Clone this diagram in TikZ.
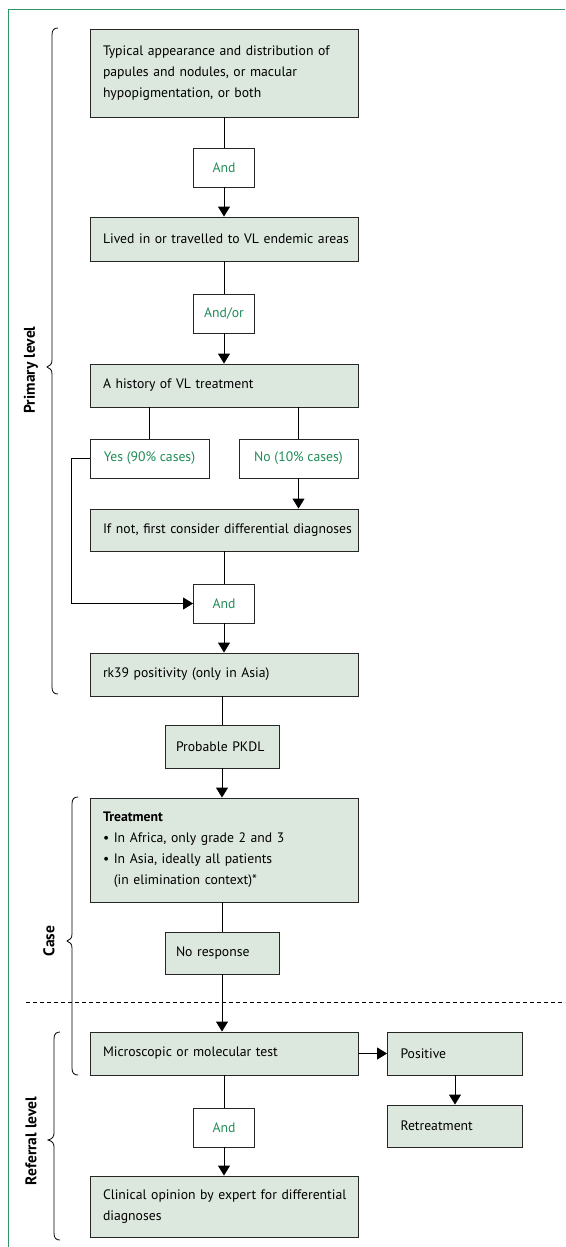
\documentclass[tikz,border=0pt]{standalone}
\usepackage{fontspec}
\setmainfont{PT Sans}
\usetikzlibrary{arrows.meta}
\definecolor{boxfill}{RGB}{220,231,222}
\definecolor{lgreen}{RGB}{32,140,88}
\definecolor{framegreen}{RGB}{45,150,100}
\begin{document}
\begin{tikzpicture}[x=1pt,y=-1pt,
  every node/.style={font=\fontsize{13.7}{21}\selectfont},
  box/.style={draw=black!85, line width=0.9pt, fill=boxfill, rectangle, inner ysep=0pt, inner xsep=13pt, align=left},
  widebox/.style={box, text width=242pt, minimum width=268pt},
  smallbox/.style={box, inner xsep=11pt, text width=92pt, minimum width=114pt},
  sidebox/.style={box, text width=109pt, minimum width=135pt},
  opbox/.style={draw=black!85, line width=0.9pt, fill=white, rectangle, inner sep=0pt, align=center, text=lgreen, minimum height=39pt},
  conn/.style={draw=black, line width=0.9pt},
  arr/.style={conn, -{Triangle[width=12pt,length=10pt]}},
  brc/.style={draw=black, line width=0.8pt},
  lvl/.style={font=\bfseries\fontsize{15.5}{17}\selectfont, rotate=90}
]
\useasboundingbox (0,0) rectangle (565,1247);
% frame
\draw[framegreen, line width=1pt] (8,1247) -- (8,10) -- (565,10);

% nodes
\node[widebox, minimum height=88pt] (b1) at (224,73) {\mbox{Typical appearance and distribution of}\\papules and nodules, or macular\\hypopigmentation, or both};
\node[opbox, minimum width=61pt] (and1) at (224,167.5) {And};
\node[widebox, minimum height=44pt] (b2) at (224,239) {\mbox{Lived in or travelled to VL endemic areas}};
\node[opbox, minimum width=61pt] (andor) at (224,313.5) {And/or};
\node[widebox, minimum height=43pt] (b3) at (224,385.5) {A history of VL treatment};
\node[opbox, minimum width=119pt] (yes) at (149.5,458.5) {Yes (90\% cases)};
\node[opbox, minimum width=119pt] (no) at (298.5,458.5) {No (10\% cases)};
\node[widebox, minimum height=42pt] (b4) at (224,530) {\mbox{If not, first consider differential diagnoses}};
\node[opbox, minimum width=61pt] (and2) at (224,603.5) {And};
\node[widebox, minimum height=43pt] (b5) at (224,674.5) {rk39 positivity (only in Asia)};
\node[smallbox, minimum height=43pt] (pkdl) at (222,746.5) {Probable PKDL};
\node[widebox, minimum height=104pt] (treat) at (224,850) {\textbf{Treatment}\\\textbullet\ In Africa, only grade 2 and 3\\\textbullet\ In Asia, ideally all patients\\\phantom{\textbullet\ }(in elimination context)*};
\node[smallbox, minimum height=42pt] (nores) at (222,953) {No response};
\node[widebox, minimum height=43pt] (micro) at (224,1053.5) {Microscopic or molecular test};
\node[sidebox, minimum height=43pt] (pos) at (455,1053.5) {Positive};
\node[sidebox, minimum height=42pt] (retreat) at (455,1126) {Retreatment};
\node[opbox, minimum width=61pt] (and3) at (224,1127.5) {And};
\node[widebox, minimum height=61pt] (clin) at (224,1206.5) {\mbox{Clinical opinion by expert for differential}\\diagnoses};

% connectors
\draw[conn] (b1.south) -- (and1.north);
\draw[arr] (and1.south) -- (b2.north);
\draw[conn] (b2.south) -- (andor.north);
\draw[arr] (andor.south) -- (b3.north);
\draw[conn] (b3.south -| yes.north) -- (yes.north);
\draw[conn] (b3.south -| no.north) -- (no.north);
\draw[arr] (no.south) -- (no.south |- b4.north);
\draw[arr] (yes.west) -- ++(-18,0) |- (and2.west);
\draw[conn] (b4.south) -- (and2.north);
\draw[arr] (and2.south) -- (b5.north);
\draw[conn] (b5.south -| pkdl.north) -- (pkdl.north);
\draw[arr] (pkdl.south) -- (pkdl.south |- treat.north);
\draw[conn] (treat.south -| nores.north) -- (nores.north);
\draw[arr] (nores.south) -- (nores.south |- micro.north);
\draw[arr] (micro.east) -- (pos.west);
\draw[arr] (pos.south) -- (retreat.north);
\draw[conn] (micro.south) -- (and3.north);
\draw[arr] (and3.south) -- (clin.north);

% dashed separator
\coordinate (dashL) at (26,1002);
\coordinate (dashR) at (565,1002);
\draw[black, line width=0.8pt, dash pattern=on 4pt off 3pt] (dashL) -- (dashR);

% braces
\draw[brc] (58,28) .. controls (54,28) and (52,30) .. (52,35) -- (52,360)
  .. controls (52,364) and (50,366) .. (47,367) .. controls (50,368) and (52,370) .. (52,374)
  -- (52,687) .. controls (52,692) and (54,694) .. (58,694);
\draw[brc] (78,797) .. controls (74,797) and (72,799) .. (72,804) -- (72,934)
  .. controls (72,938) and (70,940) .. (67,941) .. controls (70,942) and (72,944) .. (72,948)
  -- (72,1068) .. controls (72,1073) and (74,1075) .. (78,1075);
\draw[brc] (60,1032) .. controls (56,1032) and (54,1034) .. (54,1039) -- (54,1133)
  .. controls (54,1137) and (52,1139) .. (48,1140) .. controls (52,1141) and (54,1143) .. (54,1147)
  -- (54,1233) .. controls (54,1238) and (56,1240) .. (60,1240);

\node[lvl] (lprim) at (31,370) {Primary level};
\node[lvl] (lcase) at (49,941) {Case};
\node[lvl] (lref) at (31,1141) {Referral level};
\end{tikzpicture}
\end{document}
